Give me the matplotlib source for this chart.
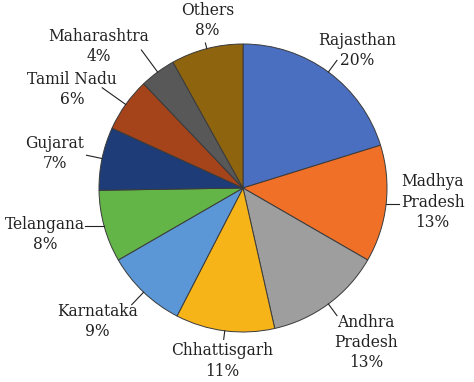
import numpy as np
import matplotlib.pyplot as plt

states = ["Rajasthan", "Madhya\nPradesh", "Andhra\nPradesh", "Chhattisgarh", "Karnataka",
          "Telangana", "Gujarat", "Tamil Nadu", "Maharashtra", "Others"]
shares = [20, 13, 13, 11, 9, 8, 7, 6, 4, 8]
colors = ["#4A6FC0", "#F07027", "#9E9E9E", "#F7B419", "#5B97D6",
          "#63B547", "#1E3D78", "#A5441A", "#585858", "#8E640F"]

# label placement: distance (in radii) and angle offset (deg) from slice middle
text_r = [1.24, 1.32, 1.37, 1.21, 1.37, 1.41, 1.33, 1.37, 1.40, 1.19]
text_da = [-3.2, 2.1, 2.2, 0.5, -3.9, -2.3, 1.5, 5.6, 9.2, -2.5]
line_r = [1.10, 1.09, 1.10, 1.06, 1.12, 1.13, 1.11, 1.20, 1.19, 1.04]
horiz = [False, True, False, False, False, True, False, False, False, False]

fig = plt.figure(figsize=(4.74, 3.82), dpi=100)
ax = fig.add_axes([0, 0, 1, 1])
wedges, _ = ax.pie(shares, colors=colors, startangle=90, counterclock=False,
                   wedgeprops=dict(edgecolor="#3a3a3a", linewidth=0.7))
ax.set_aspect("auto")
ax.set_xlim(-243 / 144, (474 - 243) / 144)
ax.set_ylim(-194 / 144, 188 / 144)
ax.axis("off")

for w, name, pct, tr, da, lr, hz in zip(wedges, states, shares, text_r, text_da, line_r, horiz):
    mid = np.deg2rad((w.theta1 + w.theta2) / 2)
    x0, y0 = np.cos(mid), np.sin(mid)
    if hz:
        x1 = x0 + np.sign(x0) * (lr - 1.0)
        ax.plot([x0, x1], [y0, y0], color="#222222", lw=0.8, clip_on=False)
    else:
        ax.plot([x0, lr * x0], [y0, lr * y0], color="#222222", lw=0.8, clip_on=False)
    ta = mid + np.deg2rad(da)
    ax.text(tr * np.cos(ta), tr * np.sin(ta), f"{name}\n{pct}%", ha="center", va="center",
            fontsize=11.2, family="DejaVu Serif", color="#222222", linespacing=1.25)

fig.savefig("out.png", dpi=100)
